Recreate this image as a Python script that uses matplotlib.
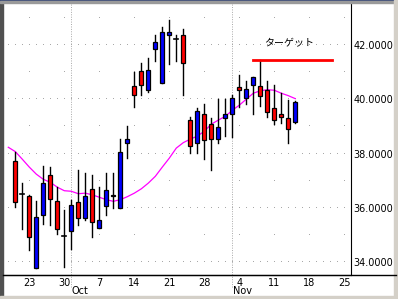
import matplotlib
matplotlib.use("Agg")
import matplotlib.pyplot as plt
from matplotlib.patches import Rectangle
from matplotlib.lines import Line2D

# daily candles, Sep 19 .. Nov 15 (trading days only)
opens = [37.72, 36.50, 36.45, 33.80, 35.75, 37.20, 36.24, 34.97, 35.13, 36.20,
         35.64, 36.71, 35.24, 36.08, 36.49, 36.01, 38.37, 40.47, 41.02, 40.33,
         41.83, 40.58, 42.38, 42.21, 42.38, 39.25, 38.37, 39.47, 39.10, 38.52,
         39.29, 39.44, 40.45, 40.03, 40.54, 40.47, 40.34, 39.69, 39.47, 39.30,
         39.16]
highs = [38.05, 36.90, 36.47, 36.24, 37.53, 37.50, 36.77, 35.91, 36.28, 37.39,
         37.30, 37.20, 36.75, 37.30, 37.30, 38.55, 39.01, 41.01, 41.33, 41.50,
         42.36, 42.64, 42.91, 42.36, 42.58, 39.35, 39.69, 39.82, 39.29, 39.99,
         39.99, 40.15, 40.88, 40.67, 40.80, 41.45, 40.66, 40.54, 40.21, 39.96,
         39.94]
lows = [36.03, 35.21, 34.44, 33.78, 35.40, 35.36, 35.02, 33.82, 34.50, 35.35,
        35.54, 34.93, 35.24, 35.75, 36.00, 36.01, 37.85, 39.72, 40.14, 40.27,
        41.41, 40.58, 41.28, 41.41, 40.17, 38.02, 38.02, 37.78, 37.41, 38.39,
        38.64, 38.61, 39.70, 39.84, 39.47, 39.75, 39.35, 39.10, 39.13, 38.39,
        39.13]
closes = [36.20, 36.50, 34.93, 35.68, 36.91, 36.34, 35.22, 34.97, 36.12, 35.64,
          36.45, 35.47, 35.54, 36.64, 36.42, 38.07, 38.55, 40.17, 40.54, 41.06,
          42.09, 42.49, 42.46, 42.21, 41.35, 38.29, 39.57, 38.48, 38.55, 38.98,
          39.47, 40.06, 40.33, 40.39, 40.80, 40.10, 39.53, 39.25, 39.35, 38.92,
          39.89]

# moving average line, starts one day before the first visible candle
ma_values = [38.23, 38.07, 37.79, 37.50, 37.24, 37.05, 36.94, 36.76, 36.63, 36.61,
             36.52, 36.54, 36.48, 36.39, 36.30, 36.24, 36.30, 36.41, 36.54, 36.70,
             36.91, 37.16, 37.50, 37.83, 38.20, 38.40, 38.53, 38.64, 38.82, 39.08,
             39.23, 39.37, 39.59, 39.78, 40.00, 40.22, 40.31, 40.35, 40.33, 40.22,
             40.13, 40.02]

target_level = 41.45
target_label = "ターゲット"

day_ticks = ["23", "30", "7", "14", "21", "28", "4", "11", "18", "25"]
monday_idx = [2, 7, 12, 17, 22, 27, 32, 37, 42, 47]
month_names = ["Oct", "Nov"]
month_idx = [8, 31]
price_ticks = [34, 36, 38, 40, 42]
minor_levels = [35, 37, 39, 41, 43]

W, H = 398, 299
fig = plt.figure(figsize=(W / 100, H / 100), dpi=100)
fig.patch.set_facecolor("white")
ax = fig.add_axes([3 / W, 24 / H, 348 / W, 272 / H])
ax.set_xlim(-1.757, 47.957)
ax.set_ylim(33.527, 43.542)

grid_c = "#A8A8A8"
# dotted grid: every day on the main levels, mondays on the half levels
for lv in price_ticks:
    ax.plot(range(-1, 48), [lv] * 49, ",", color=grid_c)
for lv in minor_levels:
    ax.plot(monday_idx, [lv] * len(monday_idx), ",", color=grid_c)
ax.plot(monday_idx, [43.50] * len(monday_idx), ",", color=grid_c)
for m in month_idx:
    ax.plot([m, m], [-0.044, 1], transform=ax.get_xaxis_transform(),
            color=grid_c, lw=0.7, ls=(0, (1, 1.5)), clip_on=False)

# moving average
ax.plot(range(-1, len(ma_values) - 1), ma_values, color="#FF00FF", lw=0.9, zorder=2)

# candles
w = 0.62
for i in range(len(opens)):
    o, h, l, c = opens[i], highs[i], lows[i], closes[i]
    ax.plot([i, i], [l, h], color="black", lw=1.0, zorder=3)
    if o == c:
        ax.plot([i - w / 2, i + w / 2], [o, o], color="black", lw=1.2, zorder=4)
        continue
    col = "#0000FF" if c > o else "#FF0000"
    ax.add_patch(Rectangle((i - w / 2, min(o, c)), w, abs(c - o),
                           facecolor=col, edgecolor="black", lw=0.9, zorder=4))

# target
ax.plot([34, 45.2], [target_level, target_level], color="#FF0000", lw=2, zorder=5)
ax.text(39.1, 42.05, target_label, ha="center", va="center", fontsize=7.2,
        family=["Noto Sans CJK JP", "DejaVu Sans"])

for s in ["left", "top"]:
    ax.spines[s].set_visible(False)
ax.spines["right"].set_color("black")
ax.spines["bottom"].set_color("black")
ax.yaxis.tick_right()
ax.set_yticks(price_ticks)
ax.set_yticklabels([f"{v:.4f}" for v in price_ticks])
ax.set_xticks(monday_idx)
ax.set_xticklabels(day_ticks)
ax.tick_params(length=0, labelsize=7, colors="black")
ax.tick_params(axis="y", pad=2)
ax.tick_params(axis="x", pad=2)
for m, name in zip(month_idx, month_names):
    ax.text(m + 0.05, -0.042, name, transform=ax.get_xaxis_transform(),
            ha="left", va="top", fontsize=7)

# bottom axis runs across the label column too
fig.add_artist(Line2D([3 / W, 396 / W], [24 / H, 24 / H], color="black", lw=1))

# window frame
fig.add_artist(Rectangle((0, 0), 3 / W, 1, transform=fig.transFigure, color="#505050"))
fig.add_artist(Rectangle((0, 1 - 1 / H), 1, 1 / H, transform=fig.transFigure, color="#3A4A78"))
fig.add_artist(Rectangle((0, 1 - 3 / H), 1, 2 / H, transform=fig.transFigure, color="#9A9A9A"))
fig.add_artist(Rectangle((394 / W, 0), 4 / W, 1, transform=fig.transFigure, color="#D4D0C8"))
fig.add_artist(Rectangle((0, 0), 1, 3 / H, transform=fig.transFigure, color="#D4D0C8"))

fig.savefig("out.png", dpi=100)
